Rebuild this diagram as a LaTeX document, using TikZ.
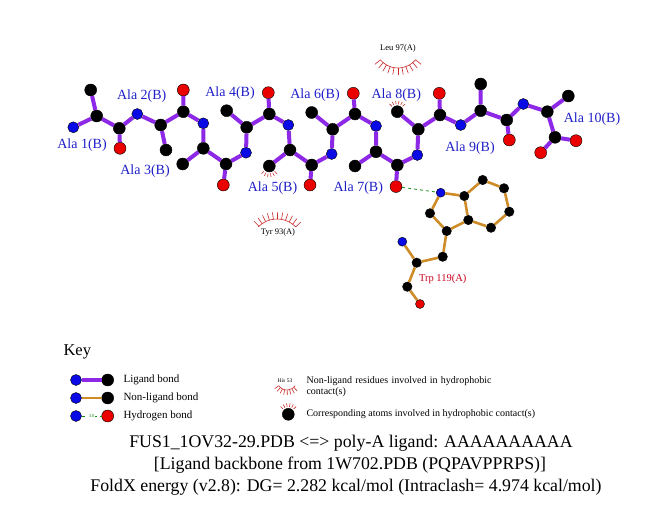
\documentclass[tikz,border=0pt]{standalone}
\usepackage{fontspec}
\setmainfont{Liberation Serif}
\definecolor{ligpurple}{RGB}{140,40,230}
\definecolor{nligorange}{RGB}{205,140,40}
\definecolor{atomblue}{RGB}{10,10,230}
\definecolor{atomred}{RGB}{235,0,0}
\definecolor{labblue}{RGB}{30,30,200}
\definecolor{contred}{RGB}{200,40,40}
\definecolor{hbgreen}{RGB}{20,140,20}
\definecolor{resred}{RGB}{200,0,30}

\begin{document}
\begin{tikzpicture}[x=1pt,y=1pt,
	atom/.style={circle,draw=black,line width=0.4pt,inner sep=0pt,minimum size=12pt},
	lc/.style={atom,fill=black},
	ln/.style={atom,fill=atomblue,minimum size=11pt},
	lo/.style={atom,fill=atomred},
	tc/.style={atom,fill=black,minimum size=9.5pt},
	tn/.style={atom,fill=atomblue,minimum size=9pt},
	to/.style={atom,fill=atomred,minimum size=9pt},
	lig/.style={line width=4pt,ligpurple},
	nlig/.style={line width=2.6pt,nligorange},
	hb/.style={dashed,hbgreen,line width=0.8pt},
	cont/.style={contred,line width=0.6pt},
	alab/.style={text=labblue,font=\fontsize{14}{16}\selectfont},
	rlab/.style={font=\fontsize{8.5}{10}\selectfont},
	klab/.style={anchor=west,font=\fontsize{11}{13}\selectfont},
	kside/.style={anchor=west,font=\fontsize{10}{12}\selectfont},
	title/.style={font=\fontsize{17.8}{21}\selectfont}]
	\useasboundingbox (0,0) rectangle (651,-511);
	% ligand atoms
	\node[ln] (n1) at (73.3,-127.3) {};
	\node[lc] (ca1) at (96.7,-116) {};
	\node[lc] (cb1) at (90.7,-90) {};
	\node[lc] (c1) at (119.3,-128.3) {};
	\node[lo] (o1) at (120,-148.3) {};
	\node[ln] (n2) at (137.3,-114) {};
	\node[lc] (ca2) at (160.7,-125) {};
	\node[lc] (cb2) at (166,-150) {};
	\node[lc] (c2) at (183.3,-111.7) {};
	\node[lo] (o2) at (183.3,-90) {};
	\node[ln] (n3) at (203.3,-123.3) {};
	\node[lc] (ca3) at (203.3,-148.3) {};
	\node[lc] (cb3) at (182.7,-164) {};
	\node[lc] (c3) at (226,-164) {};
	\node[lo] (o3) at (223.3,-185) {};
	\node[ln] (n4) at (246,-152.7) {};
	\node[lc] (ca4) at (246.7,-127.3) {};
	\node[lc] (cb4) at (226.7,-110.7) {};
	\node[lc] (c4) at (269.3,-114) {};
	\node[lo] (o4) at (268.3,-92.7) {};
	\node[ln] (n5) at (288.3,-125) {};
	\node[lc] (ca5) at (290,-150) {};
	\node[lc] (cb5) at (269.3,-166) {};
	\node[lc] (c5) at (311.7,-165) {};
	\node[lo] (o5) at (310,-185) {};
	\node[ln] (n6) at (331.7,-154) {};
	\node[lc] (ca6) at (332.7,-129.3) {};
	\node[lc] (cb6) at (311.7,-112.5) {};
	\node[lc] (c6) at (355,-114) {};
	\node[lo] (o6) at (353.3,-93.3) {};
	\node[ln] (n7) at (376,-126) {};
	\node[lc] (ca7) at (376,-151.7) {};
	\node[lc] (cb7) at (355,-166) {};
	\node[lc] (c7) at (397.3,-165) {};
	\node[lo] (o7) at (396,-186.5) {};
	\node[ln] (n8) at (417.3,-155) {};
	\node[lc] (ca8) at (418.3,-129.3) {};
	\node[lc] (cb8) at (397.3,-111.7) {};
	\node[lc] (c8) at (440,-115) {};
	\node[lo] (o8) at (439.3,-93.3) {};
	\node[ln] (n9) at (460.7,-125) {};
	\node[lc] (ca9) at (480.7,-110.7) {};
	\node[lc] (cb9) at (480.7,-84) {};
	\node[lc] (c9) at (506.7,-120) {};
	\node[lo] (o9) at (509.3,-140) {};
	\node[ln] (n10) at (523.3,-104) {};
	\node[lc] (ca10) at (547.3,-111.7) {};
	\node[lc] (cb10) at (568.3,-96) {};
	\node[lc] (c10) at (555,-137.3) {};
	\node[lo] (o10) at (576,-140.7) {};
	\node[lo] (oxt) at (540.7,-152.7) {};
	% ligand bonds
	\draw[lig] (n1)--(ca1) (ca1)--(cb1) (ca1)--(c1) (c1)--(o1) (c1)--(n2);
	\draw[lig] (n2)--(ca2) (ca2)--(cb2) (ca2)--(c2) (c2)--(o2) (c2)--(n3);
	\draw[lig] (n3)--(ca3) (ca3)--(cb3) (ca3)--(c3) (c3)--(o3) (c3)--(n4);
	\draw[lig] (n4)--(ca4) (ca4)--(cb4) (ca4)--(c4) (c4)--(o4) (c4)--(n5);
	\draw[lig] (n5)--(ca5) (ca5)--(cb5) (ca5)--(c5) (c5)--(o5) (c5)--(n6);
	\draw[lig] (n6)--(ca6) (ca6)--(cb6) (ca6)--(c6) (c6)--(o6) (c6)--(n7);
	\draw[lig] (n7)--(ca7) (ca7)--(cb7) (ca7)--(c7) (c7)--(o7) (c7)--(n8);
	\draw[lig] (n8)--(ca8) (ca8)--(cb8) (ca8)--(c8) (c8)--(o8) (c8)--(n9);
	\draw[lig] (n9)--(ca9) (ca9)--(cb9) (ca9)--(c9) (c9)--(o9) (c9)--(n10);
	\draw[lig] (n10)--(ca10) (ca10)--(cb10) (ca10)--(c10) (c10)--(o10) (c10)--(oxt);
	% residue labels
	\node[alab] (l1) at (82,-145) {Ala 1(B)};
	\node[alab] (l2) at (141.7,-96) {Ala 2(B)};
	\node[alab] (l3) at (145,-171.5) {Ala 3(B)};
	\node[alab] (l4) at (230,-93.5) {Ala 4(B)};
	\node[alab] (l5) at (272.5,-188) {Ala 5(B)};
	\node[alab] (l6) at (315,-95) {Ala 6(B)};
	\node[alab] (l7) at (358.3,-188.3) {Ala 7(B)};
	\node[alab] (l8) at (396.3,-95) {Ala 8(B)};
	\node[alab] (l9) at (470,-148.3) {Ala 9(B)};
	\node[alab] (l10) at (592,-119.3) {Ala 10(B)};
	% Trp 119
	\node[tn] (tn) at (402.3,-241.7) {};
	\node[tc] (tca) at (416.7,-262.7) {};
	\node[tc] (tc) at (407.3,-286.7) {};
	\node[to] (to) at (420,-304) {};
	\node[tc] (tcb) at (442.7,-256.7) {};
	\node[tc] (tcg) at (446.7,-231) {};
	\node[tc] (tcd1) at (430,-213.3) {};
	\node[tn] (tne1) at (440.7,-192.7) {};
	\node[tc] (tce2) at (464.3,-196) {};
	\node[tc] (tcd2) at (468.3,-220) {};
	\node[tc] (tce3) at (491,-227.7) {};
	\node[tc] (tcz3) at (509.3,-211.7) {};
	\node[tc] (tch2) at (504,-188.3) {};
	\node[tc] (tcz2) at (482.7,-180) {};
	\draw[nlig] (tn)--(tca) (tca)--(tc) (tc)--(to) (tca)--(tcb) (tcb)--(tcg);
	\draw[nlig] (tcg)--(tcd1) (tcd1)--(tne1) (tne1)--(tce2) (tce2)--(tcd2) (tcd2)--(tcg);
	\draw[nlig] (tcd2)--(tce3) (tce3)--(tcz3) (tcz3)--(tch2) (tch2)--(tcz2) (tcz2)--(tce2);
	\node[text=resred,font=\fontsize{10.5}{12}\selectfont] (trp) at (442.7,-279.3) {Trp 119(A)};
	\draw[hb] (o7)--(tne1);
	% hydrophobic contacts
	\coordinate (tyr) at (277,-245);
	\draw[cont] (tyr) ++(44:26) arc[start angle=44,end angle=136,radius=26];
	\foreach \a in {44,53,...,136} \draw[cont] (tyr) ++(\a:26) -- ++(\a:7);
	\node[rlab] (tyrl) at (278,-232) {Tyr 93(A)};
	\coordinate (leu) at (398,-45);
	\draw[cont] (leu) ++(220:23) arc[start angle=220,end angle=320,radius=23];
	\foreach \a in {220,230,...,320} \draw[cont] (leu) ++(\a:23) -- ++(\a:7);
	\node[rlab] (leul) at (398,-48) {Leu 97(A)};
	\foreach \a in {225,243,...,315} \draw[cont] (cb5) ++(\a:7.5) -- ++(\a:3.5);
	\foreach \a in {45,63,...,135} \draw[cont] (cb8) ++(\a:7.5) -- ++(\a:3.5);
	% key
	\node[anchor=west,font=\fontsize{16.5}{19}\selectfont] (key) at (60,-352) {Key};
	\node[ln] (k1a) at (76,-380) {};
	\node[lc] (k1b) at (107.7,-380) {};
	\draw[lig] (k1a)--(k1b);
	\node[klab] (k1) at (120,-380) {Ligand bond};
	\node[ln] (k2a) at (76,-398) {};
	\node[lc] (k2b) at (107.7,-398) {};
	\draw[nlig] (k2a)--(k2b);
	\node[klab] (k2) at (120,-398) {Non-ligand bond};
	\node[ln] (k3a) at (76,-416) {};
	\node[lo] (k3b) at (107.7,-416) {};
	\draw[hb] (k3a)--(k3b) node[midway,fill=white,inner sep=0.5pt,text=hbgreen,font=\fontsize{4.5}{5}\selectfont] (k3d) {3.0};
	\node[klab] (k3) at (120,-416) {Hydrogen bond};
	\coordinate (his) at (287,-380);
	\draw[cont] (his) ++(215:10) arc[start angle=215,end angle=325,radius=10];
	\foreach \a in {215,229,...,325} \draw[cont] (his) ++(\a:10) -- ++(\a:5);
	\node[font=\fontsize{5.5}{6}\selectfont] (hisl) at (285,-381) {His 53};
	\node[kside,align=left,text width=200pt] (k4) at (303,-386.5) {Non-ligand residues involved in hydrophobic\\[-1pt]contact(s)};
	\node[lc] (k5a) at (288.3,-414.3) {};
	\foreach \a in {45,63,...,135} \draw[cont] (k5a) ++(\a:7.5) -- ++(\a:3.5);
	\node[kside] (k5) at (303,-414.3) {Corresponding atoms involved in hydrophobic contact(s)};
	% title lines
	\node[title] (t1) at (351,-443) {FUS1\_1OV32-29.PDB <=> poly-A ligand: AAAAAAAAAA};
	\node[title] (t2) at (350,-465) {[Ligand backbone from 1W702.PDB (PQPAVPPRPS)]};
	\node[title] (t3) at (346,-487) {FoldX energy (v2.8): DG= 2.282 kcal/mol (Intraclash= 4.974 kcal/mol)};
\end{tikzpicture}
\end{document}
